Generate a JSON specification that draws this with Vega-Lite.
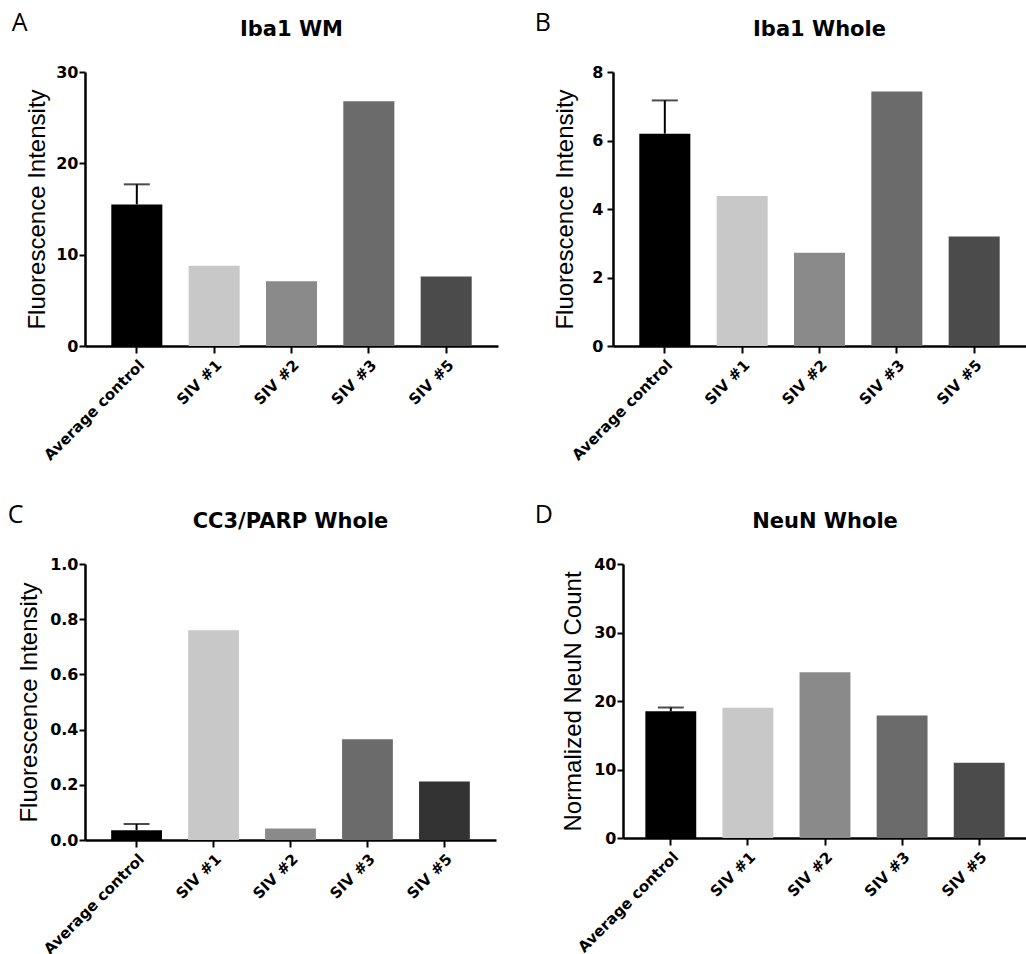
{
  "$schema": "https://vega.github.io/schema/vega-lite/v6.json",
  "padding": {"left": 7, "top": 11, "right": 0, "bottom": 0},
  "background": "white",
  "config": {
    "view": {"stroke": null},
    "font": "Liberation Sans",
    "axis": {
      "domainColor": "black", "domainWidth": 2.5, "tickColor": "black", "tickWidth": 2, "tickSize": 7,
      "labelColor": "black", "labelFont": "DejaVu Sans", "labelFontWeight": "bold", "labelFontSize": 15,
      "titleColor": "black", "titleFont": "Liberation Sans", "titleFontWeight": "normal", "titleFontSize": 24,
      "grid": false
    },
    "axisY": {"labelPadding": 1, "titlePadding": 8, "tickSize": 6, "labelFontSize": 16},
    "axisX": {"labelAngle": -45, "labelPadding": 4},
    "title": {"color": "black"}
  },
  "datasets": {
    "A": [
      {"group": "Average control", "value": 15.5, "upper": 17.7},
      {"group": "SIV #1", "value": 8.8, "upper": null},
      {"group": "SIV #2", "value": 7.1, "upper": null},
      {"group": "SIV #3", "value": 26.8, "upper": null},
      {"group": "SIV #5", "value": 7.6, "upper": null}
    ],
    "B": [
      {"group": "Average control", "value": 6.2, "upper": 7.17},
      {"group": "SIV #1", "value": 4.38, "upper": null},
      {"group": "SIV #2", "value": 2.72, "upper": null},
      {"group": "SIV #3", "value": 7.43, "upper": null},
      {"group": "SIV #5", "value": 3.2, "upper": null}
    ],
    "C": [
      {"group": "Average control", "value": 0.035, "upper": 0.058},
      {"group": "SIV #1", "value": 0.76, "upper": null},
      {"group": "SIV #2", "value": 0.042, "upper": null},
      {"group": "SIV #3", "value": 0.365, "upper": null},
      {"group": "SIV #5", "value": 0.212, "upper": null}
    ],
    "D": [
      {"group": "Average control", "value": 18.5, "upper": 19.05},
      {"group": "SIV #1", "value": 19.0, "upper": null},
      {"group": "SIV #2", "value": 24.2, "upper": null},
      {"group": "SIV #3", "value": 17.9, "upper": null},
      {"group": "SIV #5", "value": 11.0, "upper": null}
    ]
  },
  "columns": 2,
  "align": "none",
  "spacing": {"row": 40, "column": 36},
  "resolve": {"scale": {"color": "independent", "x": "independent", "y": "independent"}},
  "concat": [
    {
      "title": {"text": "A", "anchor": "start", "font": "Open Sans", "fontSize": 25, "fontWeight": "normal", "offset": -17, "dx": -14},
      "vconcat": [
        {
          "width": 413, "height": 274,
          "title": {"text": "Iba1 WM", "anchor": "middle", "frame": "group", "font": "DejaVu Sans", "fontSize": 21, "fontWeight": "bold", "offset": 24},
          "data": {"name": "A"},
          "encoding": {
            "x": {"field": "group", "type": "nominal", "sort": null, "scale": {"paddingInner": 0.34, "paddingOuter": 0.34}, "axis": {"title": null}},
            "y": {"field": "value", "type": "quantitative", "scale": {"domain": [0, 30], "nice": false}, "axis": {"title": "Fluorescence Intensity", "values": [0, 10, 20, 30], "titlePadding": 6}}
          },
          "layer": [
            {"mark": {"type": "bar"}, "encoding": {"color": {"field": "group", "type": "nominal", "legend": null, "scale": {"domain": ["Average control", "SIV #1", "SIV #2", "SIV #3", "SIV #5"], "range": ["#000000", "#c8c8c8", "#8a8a8a", "#6b6b6b", "#4b4b4b"]}}}},
            {"transform": [{"filter": "datum.upper != null"}], "mark": {"type": "rule", "color": "black", "strokeWidth": 2}, "encoding": {"y2": {"field": "upper"}}},
            {"transform": [{"filter": "datum.upper != null"}], "mark": {"type": "tick", "color": "black", "thickness": 2, "size": 26}, "encoding": {"y": {"field": "upper", "type": "quantitative", "title": "Fluorescence Intensity"}}}
          ]
        }
      ]
    },
    {
      "title": {"text": "B", "anchor": "start", "font": "Open Sans", "fontSize": 25, "fontWeight": "normal", "offset": -17, "dx": -19},
      "vconcat": [
        {
          "width": 413, "height": 274,
          "title": {"text": "Iba1 Whole", "anchor": "middle", "frame": "group", "font": "DejaVu Sans", "fontSize": 21, "fontWeight": "bold", "offset": 24},
          "data": {"name": "B"},
          "encoding": {
            "x": {"field": "group", "type": "nominal", "sort": null, "scale": {"paddingInner": 0.34, "paddingOuter": 0.34}, "axis": {"title": null}},
            "y": {"field": "value", "type": "quantitative", "scale": {"domain": [0, 8], "nice": false}, "axis": {"title": "Fluorescence Intensity", "values": [0, 2, 4, 6, 8], "titlePadding": 14, "labelPadding": 4}}
          },
          "layer": [
            {"mark": {"type": "bar"}, "encoding": {"color": {"field": "group", "type": "nominal", "legend": null, "scale": {"domain": ["Average control", "SIV #1", "SIV #2", "SIV #3", "SIV #5"], "range": ["#000000", "#c8c8c8", "#8a8a8a", "#6b6b6b", "#4b4b4b"]}}}},
            {"transform": [{"filter": "datum.upper != null"}], "mark": {"type": "rule", "color": "black", "strokeWidth": 2}, "encoding": {"y2": {"field": "upper"}}},
            {"transform": [{"filter": "datum.upper != null"}], "mark": {"type": "tick", "color": "black", "thickness": 2, "size": 26}, "encoding": {"y": {"field": "upper", "type": "quantitative", "title": "Fluorescence Intensity"}}}
          ]
        }
      ]
    },
    {
      "title": {"text": "C", "anchor": "start", "font": "Open Sans", "fontSize": 25, "fontWeight": "normal", "offset": -17, "dx": -10},
      "vconcat": [
        {
          "width": 411, "height": 276,
          "title": {"text": "CC3/PARP Whole", "anchor": "middle", "frame": "group", "font": "DejaVu Sans", "fontSize": 21, "fontWeight": "bold", "offset": 24},
          "data": {"name": "C"},
          "encoding": {
            "x": {"field": "group", "type": "nominal", "sort": null, "scale": {"paddingInner": 0.34, "paddingOuter": 0.34}, "axis": {"title": null}},
            "y": {"field": "value", "type": "quantitative", "scale": {"domain": [0, 1], "nice": false}, "axis": {"title": "Fluorescence Intensity", "values": [0, 0.2, 0.4, 0.6, 0.8, 1.0], "format": ".1f"}}
          },
          "layer": [
            {"mark": {"type": "bar"}, "encoding": {"color": {"field": "group", "type": "nominal", "legend": null, "scale": {"domain": ["Average control", "SIV #1", "SIV #2", "SIV #3", "SIV #5"], "range": ["#000000", "#c8c8c8", "#8a8a8a", "#6b6b6b", "#333333"]}}}},
            {"transform": [{"filter": "datum.upper != null"}], "mark": {"type": "rule", "color": "black", "strokeWidth": 2}, "encoding": {"y2": {"field": "upper"}}},
            {"transform": [{"filter": "datum.upper != null"}], "mark": {"type": "tick", "color": "black", "thickness": 2, "size": 26}, "encoding": {"y": {"field": "upper", "type": "quantitative", "title": "Fluorescence Intensity"}}}
          ]
        }
      ]
    },
    {
      "title": {"text": "D", "anchor": "start", "font": "Open Sans", "fontSize": 25, "fontWeight": "normal", "offset": -17, "dx": -27},
      "vconcat": [
        {
          "width": 404, "height": 274,
          "title": {"text": "NeuN Whole", "anchor": "middle", "frame": "group", "font": "DejaVu Sans", "fontSize": 21, "fontWeight": "bold", "offset": 24},
          "data": {"name": "D"},
          "encoding": {
            "x": {"field": "group", "type": "nominal", "sort": null, "scale": {"paddingInner": 0.34, "paddingOuter": 0.29}, "axis": {"title": null}},
            "y": {"field": "value", "type": "quantitative", "scale": {"domain": [0, 40], "nice": false}, "axis": {"title": "Normalized NeuN Count", "values": [0, 10, 20, 30, 40]}}
          },
          "layer": [
            {"mark": {"type": "bar"}, "encoding": {"color": {"field": "group", "type": "nominal", "legend": null, "scale": {"domain": ["Average control", "SIV #1", "SIV #2", "SIV #3", "SIV #5"], "range": ["#000000", "#c8c8c8", "#8a8a8a", "#6b6b6b", "#4b4b4b"]}}}},
            {"transform": [{"filter": "datum.upper != null"}], "mark": {"type": "rule", "color": "black", "strokeWidth": 2}, "encoding": {"y2": {"field": "upper"}}},
            {"transform": [{"filter": "datum.upper != null"}], "mark": {"type": "tick", "color": "black", "thickness": 2, "size": 26}, "encoding": {"y": {"field": "upper", "type": "quantitative", "title": "Normalized NeuN Count"}}}
          ]
        }
      ]
    }
  ]
}
